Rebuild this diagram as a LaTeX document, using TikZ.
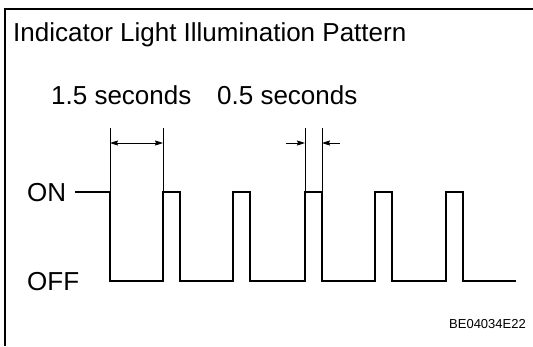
\documentclass[tikz,border=0pt]{standalone}
\usepackage{fontspec}
\setmainfont{Liberation Sans}
\usetikzlibrary{arrows.meta}
\begin{document}
\begin{tikzpicture}[x=1pt,y=-1pt,
  wave/.style={line width=1.6pt},
  dimline/.style={line width=0.8pt},
  frame/.style={line width=2pt},
  lbl/.style={font=\fontsize{26}{31}\selectfont, inner sep=0pt, anchor=base west},
  tip/.style={-{Stealth[length=8pt,width=5pt,inset=1pt]}},
  dtip/.style={{Stealth[length=8pt,width=5pt,inset=1pt]}-{Stealth[length=8pt,width=5pt,inset=1pt]}}]
\useasboundingbox (0,0) rectangle (533,346);
\fill[white] (0,0) rectangle (533,346);
% frame
\coordinate (fr1) at (533,9);
\coordinate (fr2) at (5,9);
\coordinate (fr3) at (5,346);
\draw[frame] (fr1) -- (fr2) -- (fr3);
% texts
\node[lbl] (title) at (13,41) {Indicator Light Illumination Pattern};
\node[lbl] (t15) at (51,104) {1.5 seconds};
\node[lbl] (t05) at (217,104) {0.5 seconds};
\node[lbl] (on) at (27,201) {ON};
\node[lbl] (off) at (27,290) {OFF};
\node[font=\fontsize{13}{15}\selectfont, inner sep=0pt, anchor=base east] (code) at (526,328) {BE04034E22};
% waveform
\coordinate (onstart) at (75,192);
\draw[wave] (onstart) -- (110,192) -- (110,281) -- (163,281) -- (163,192)
  -- (180,192) -- (180,281) -- (233,281) -- (233,192) -- (250,192) -- (250,281)
  -- (305,281) -- (305,192) -- (322,192) -- (322,281) -- (375,281) -- (375,192)
  -- (392,192) -- (392,281) -- (446,281) -- (446,192) -- (463,192) -- (463,281)
  -- (516,281);
% dimension extension lines
\coordinate (e1t) at (110,128); \coordinate (e1b) at (110,192);
\coordinate (e2t) at (163,128); \coordinate (e2b) at (163,192);
\coordinate (e3t) at (305,128); \coordinate (e3b) at (305,192);
\coordinate (e4t) at (322,128); \coordinate (e4b) at (322,192);
\draw[dimline] (e1t) -- (e1b);
\draw[dimline] (e2t) -- (e2b);
\draw[dimline] (e3t) -- (e3b);
\draw[dimline] (e4t) -- (e4b);
% arrows
\coordinate (a1) at (110,143); \coordinate (a2) at (163,143);
\draw[dimline, dtip] (a1) -- (a2);
\coordinate (b0) at (286,143); \coordinate (b1) at (305,143);
\coordinate (b2) at (322,143); \coordinate (b3) at (340,143);
\draw[dimline, tip] (b0) -- (b1);
\draw[dimline, tip] (b3) -- (b2);
\end{tikzpicture}
\end{document}
